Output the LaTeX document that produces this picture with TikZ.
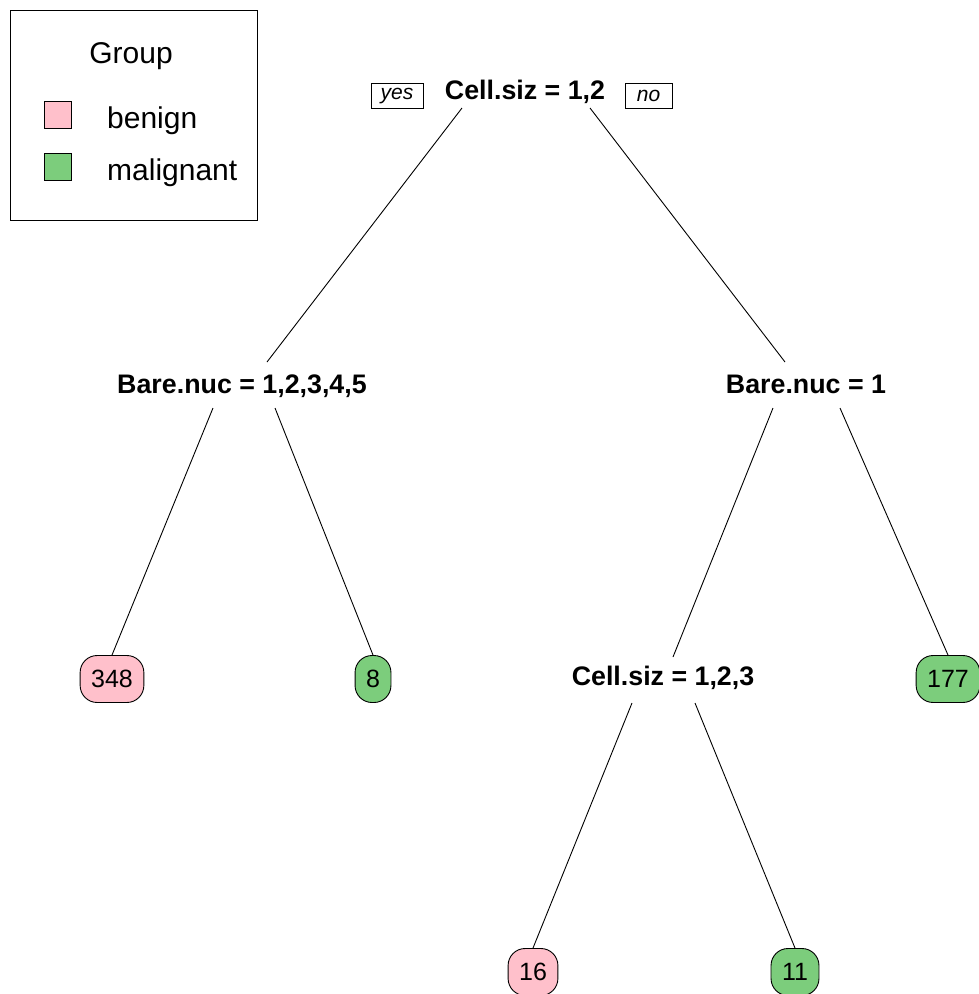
\documentclass[tikz,border=0pt]{standalone}
\usepackage{fontspec}
\setmainfont{Liberation Sans}
\definecolor{benign}{RGB}{255,192,203}
\definecolor{malig}{RGB}{124,205,124}
\begin{document}
\begin{tikzpicture}[x=1pt,y=-1pt,
  split/.style={font=\fontsize{26.8}{30}\selectfont\bfseries, inner sep=0pt, anchor=base},
  leaf/.style={draw, line width=0.9pt, rounded corners=17pt, minimum height=47pt, inner xsep=11pt, inner ysep=0pt, font=\fontsize{25}{30}\selectfont},
  edge/.style={line width=0.9pt},
  tag/.style={draw, line width=0.9pt, font=\fontsize{21}{24}\selectfont\itshape, minimum height=25pt, inner xsep=3pt, inner ysep=0pt},
  legtext/.style={font=\fontsize{30}{34}\selectfont, inner sep=0pt, anchor=base west},
  key/.style={draw, line width=0.9pt, minimum size=27pt, inner sep=0pt}]
\useasboundingbox (0,0) rectangle (979,994);
% legend
\node[draw, line width=0.9pt, minimum width=247pt, minimum height=210pt, anchor=north west, inner sep=0pt] (legend) at (10,10) {};
\node[font=\fontsize{30}{34}\selectfont, inner sep=0pt, anchor=base] (grp) at (131,63) {Group};
\node[key, fill=benign] (kb) at (58,115) {};
\node[key, fill=malig] (km) at (58,167) {};
\node[legtext] (tb) at (107,128) {benign};
\node[legtext] (tm) at (107,180) {malignant};
% tree
\node[split] (root) at (525,99) {Cell.siz = 1,2};
\node[tag, minimum width=52pt] (yes) at (397,96) {\raisebox{-2pt}{yes}};
\node[tag, minimum width=47pt] (no) at (648.5,96) {no};
\node[split] (bl) at (242,393) {Bare.nuc = 1,2,3,4,5};
\node[split] (br) at (806,393) {Bare.nuc = 1};
\node[split] (cs) at (663,685) {Cell.siz = 1,2,3};
\node[leaf, fill=benign] (l348) at (112,679) {348};
\node[leaf, fill=malig] (l8) at (373,679) {8};
\node[leaf, fill=malig] (l177) at (948,679) {177};
\node[leaf, fill=benign] (l16) at (533,972) {16};
\node[leaf, fill=malig] (l11) at (795,972) {11};
% edges
\draw[edge] ([shift={(-63,9)}]root.base) -- ([shift={(25,-31)}]bl.base);
\draw[edge] ([shift={(65,9)}]root.base) -- ([shift={(-21,-31)}]br.base);
\draw[edge] ([shift={(-29,15)}]bl.base) -- (l348.north);
\draw[edge] ([shift={(33,15)}]bl.base) -- (l8.north);
\draw[edge] ([shift={(-33,15)}]br.base) -- ([shift={(10,-28)}]cs.base);
\draw[edge] ([shift={(34,15)}]br.base) -- (l177.north);
\draw[edge] ([shift={(-31,18)}]cs.base) -- (l16.north);
\draw[edge] ([shift={(32,18)}]cs.base) -- (l11.north);
\end{tikzpicture}
\end{document}
